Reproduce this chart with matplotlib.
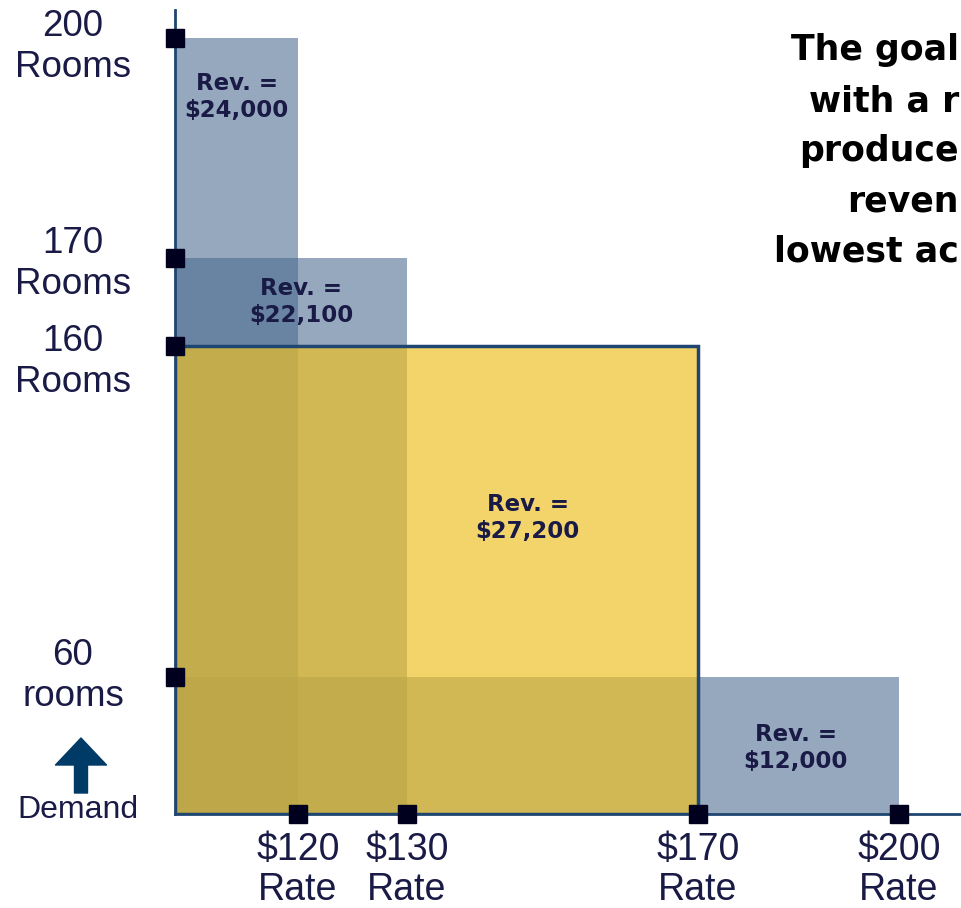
import numpy as np
import matplotlib
matplotlib.use('Agg')
import matplotlib.pyplot as plt
from matplotlib.patches import Rectangle

# rate offered vs. rooms sold at that rate
rates = [120, 130, 170, 200]
rooms = [200, 170, 160, 60]
revenue = ['$24,000', '$22,100', '$27,200', '$12,000']
rate_labels = ['$120\nRate', '$130\nRate', '$170\nRate', '$200\nRate']
room_labels = ['200\nRooms', '170\nRooms', '160\nRooms', '60\nrooms']
best = 2  # the $170 option
goal_text = ['The goal', 'with a r', 'produce', 'reven', 'lowest ac']

# the original is a sketch, axes are not to scale -> piecewise scale
rate_knots = [0, 120, 130, 170, 200, 260]
rate_px = [0, 123, 232, 523, 724, 1126]
room_knots = [0, 60, 160, 170, 200, 240]
room_px = [0, 137, 468, 556, 776, 928]

# where the "Rev. =" labels sit (data units)
rev_x = [60, 120.3, 146.6, 184.6]
rev_y = [192, 165, 108, 29]
room_lab_dy = [9, 6, 16, -1]  # px below the marker

navy = '#1e4670'
dark = '#1a1a46'
px = 0.72  # points per pixel at dpi 100

fig = plt.figure(figsize=(9.61, 9.08), dpi=100)
ax = fig.add_axes([175 / 961, 94 / 908, 786 / 961, 804 / 908])
ax.set_xscale('function', functions=(lambda v: np.interp(v, rate_knots, rate_px),
                                     lambda p: np.interp(p, rate_px, rate_knots)))
ax.set_yscale('function', functions=(lambda v: np.interp(v, room_knots, room_px),
                                     lambda p: np.interp(p, room_px, room_knots)))
ax.set_xlim(0, 209.25)
ax.set_ylim(0, 207.4)

for i, (r, n) in enumerate(zip(rates, rooms)):
    if i == best:
        ax.add_patch(Rectangle((0, 0), r, n, facecolor=(238/255, 192/255, 35/255, 0.68),
                               edgecolor=navy, linewidth=2.5, zorder=3))
    else:
        ax.add_patch(Rectangle((0, 0), r, n, facecolor='#4a6a90', alpha=0.58,
                               edgecolor='none', zorder=2))

for x, y, rev in zip(rev_x, rev_y, revenue):
    ax.text(x, y, 'Rev. =\n' + rev, ha='center', va='center', fontsize=16.5,
            fontweight='bold', color=dark, linespacing=1.2, zorder=6)

ax.plot(rates, [0] * len(rates), 's', ms=13, color='#00001e', clip_on=False, zorder=7)
ax.plot([0] * len(rooms), rooms, 's', ms=13, color='#00001e', clip_on=False, zorder=7)

for r, lab in zip(rates, rate_labels):
    ax.annotate(lab, xy=(r, 0), xycoords=('data', 'axes fraction'),
                xytext=(0, -56 * px), textcoords='offset points', ha='center',
                va='center', fontsize=27, color=dark, family='Liberation Sans',
                linespacing=1.15, annotation_clip=False)
for n, lab, dy in zip(rooms, room_labels, room_lab_dy):
    ax.annotate(lab, xy=(0, n), xycoords=('axes fraction', 'data'),
                xytext=(-102 * px, -dy * px), textcoords='offset points', ha='center',
                va='center', fontsize=26.5, color=dark, family='Liberation Sans',
                linespacing=1.2, annotation_clip=False)

for s in ['top', 'right']:
    ax.spines[s].set_visible(False)
for s in ['left', 'bottom']:
    ax.spines[s].set_color(navy)
    ax.spines[s].set_linewidth(2)
    ax.spines[s].set_zorder(4)
ax.set_xticks([])
ax.set_yticks([])
ax.patch.set_alpha(0)

# demand arrow
fig.text(78 / 961, 1 - 810 / 908, 'Demand', ha='center', va='center', fontsize=23,
         color=dark, family='Liberation Sans')
ax.annotate('', xy=(81 / 961, 1 - 738 / 908), xytext=(81 / 961, 1 - 793 / 908),
            xycoords='figure fraction', textcoords='figure fraction',
            arrowprops=dict(width=13 * px, headwidth=51 * px, headlength=27 * px,
                            shrink=0, color='#003a66'))

# note on the right, runs up to the edge of the picture
goal_base = [60, 111, 161, 212, 262]
for t, y in zip(goal_text, goal_base):
    fig.text(959 / 961, 1 - y / 908, t, ha='right', va='baseline', fontsize=25,
             fontweight='bold', color='black')

fig.savefig('out.png', dpi=100)
